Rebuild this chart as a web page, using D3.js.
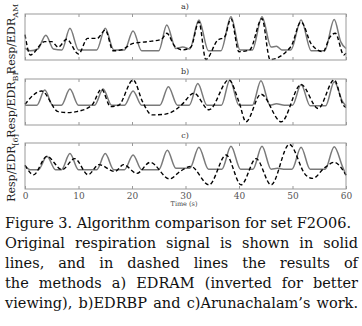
<!DOCTYPE html>
<html>
<head>
<meta charset="utf-8">
<script src="https://cdn.jsdelivr.net/npm/d3@7"></script>
<style>
  body { margin: 0; background: #fff; }
  svg { display: block; font-family: "DejaVu Serif", serif; }
</style>
</head>
<body>
<svg id="fig" width="362" height="326"></svg>
<script>
// x ticks (seconds)
const timeTicks = [0, 10, 20, 30, 40, 50, 60];

// panel a) EDR AM (inverted)
const respA_t = [0, 1, 2.4, 3.9, 5.3, 6.9, 8.4, 10, 13.4, 15, 16.6, 18.6, 20.2, 21.8, 25, 26.5, 28.2, 29.5, 30.8, 32.5, 34.3, 36.6, 38.5, 40.2, 42.5, 44.3, 46, 47, 48, 49.7, 51.6, 53.5, 56, 57.8, 59, 60];
const respA_v = [0.26, 0.2, 0.24, 0.54, 0.24, 0.22, 0.69, 0.22, 0.22, 0.69, 0.22, 0.22, 0.63, 0.2, 0.2, 0.76, 0.25, 0.28, 0.24, 0.87, 0.2, 0.2, 0.94, 0.22, 0.22, 0.94, 0.28, 0.3, 0.22, 0.22, 0.87, 0.2, 0.2, 0.88, 0.4, 0.25];
const edrA_t = [0, 1, 3.7, 5, 6.2, 7.8, 10, 11.7, 13.5, 15, 16.5, 18, 20.2, 23, 25.5, 26.5, 28, 29.5, 31, 32.5, 33.8, 36, 37.3, 38.5, 40, 42, 44.3, 45.8, 49.7, 51.6, 53.5, 55.7, 57, 58, 59.6, 60];
const edrA_v = [0.55, 0.11, 0.4, 0.4, 0.28, 0.45, 0.13, 0.47, 0.47, 0.65, 0.2, 0.22, 0.36, 0.4, 0.45, 0.58, 0.3, 0.22, 0.28, 0.83, 0.01, 0.43, 0.5, 0.9, 0.18, 0.22, 0.9, 0.01, 0.29, 0.83, 0.35, 0.18, 0.5, 0.58, 0.11, 0.15];

// panel b) EDR BP
const respB_t = [0, 2.2, 3.7, 5.2, 6.8, 8.4, 10, 13, 14.6, 16.2, 18.6, 20.2, 21.8, 25.2, 26.8, 28.5, 30.7, 32.3, 34, 36.7, 38.3, 40, 42.5, 44.1, 45.8, 47, 48.5, 50, 51.6, 53.3, 56.2, 57.8, 59.4, 60];
const respB_v = [0.43, 0.43, 0.76, 0.43, 0.43, 0.78, 0.43, 0.43, 0.78, 0.43, 0.43, 0.74, 0.43, 0.43, 0.83, 0.43, 0.43, 0.9, 0.43, 0.43, 0.98, 0.43, 0.43, 0.96, 0.43, 0.46, 0.43, 0.43, 0.88, 0.42, 0.42, 0.94, 0.5, 0.42];
const edrB_t = [0, 3.1, 6.2, 8, 9.6, 12.5, 14.3, 16, 17.5, 20.2, 22, 23.7, 25.9, 28, 29.2, 31.6, 34.4, 38.1, 40, 41.3, 44.1, 47.9, 51.6, 54.8, 57.8, 59.5, 60];
const edrB_v = [0.45, 0.74, 0.29, 0.27, 0.29, 0.43, 0.78, 0.4, 0.43, 0.98, 0.5, 0.22, 0.23, 0.32, 0.43, 0.69, 0.33, 0.98, 0.5, 0.07, 0.67, 0.07, 0.88, 0.36, 0.98, 0.43, 0.38];

// panel c) Arunachalam [6]
const respC_t = [0, 1, 2.5, 4.1, 5.7, 6.8, 8.4, 10, 13.4, 15, 16.6, 18.6, 20.2, 21.8, 25, 26.6, 28.2, 30.8, 32.5, 34.3, 36.8, 38.5, 40.3, 42.6, 44.3, 46, 47.2, 48.3, 49.9, 51.6, 53.3, 56.1, 57.8, 59.3, 60];
const respC_v = [0.5, 0.42, 0.42, 0.71, 0.42, 0.42, 0.77, 0.42, 0.42, 0.77, 0.42, 0.42, 0.74, 0.42, 0.42, 0.84, 0.45, 0.45, 0.91, 0.43, 0.43, 0.93, 0.43, 0.43, 0.93, 0.43, 0.45, 0.43, 0.43, 0.91, 0.43, 0.43, 0.92, 0.5, 0.3];
const edrC_t = [0, 1.6, 4.1, 6.9, 9.3, 11.8, 13.8, 16.8, 18.4, 20.9, 23.4, 27, 29.2, 31, 34.4, 37.6, 40.4, 43.2, 46, 49.4, 52.5, 53.8, 55.9, 57.8, 60];
const edrC_v = [0.52, 0.31, 0.71, 0.42, 0.66, 0.31, 0.53, 0.38, 0.53, 0.34, 0.58, 0.22, 0.4, 0.49, 0.09, 0.74, 0.09, 0.66, 0.09, 0.97, 0.3, 0.23, 0.45, 0.58, 0.3];

const panelTitles = ["a)", "b)", "c)"];
const labelSubs = ["AM", "BP", "[6]"];
const captionLines = [
  "Figure 3. Algorithm comparison for set F2O06.",
  "Original respiration signal is shown in solid",
  "lines, and in dashed lines the results of",
  "the methods a) EDRAM (inverted for better",
  "viewing), b)EDRBP and c)Arunachalam\u2019s work."
];

const zip = (t, v) => t.map((d, i) => [d, v[i]]);
const panels = [
  { resp: zip(respA_t, respA_v), edr: zip(edrA_t, edrA_v), top: 14 },
  { resp: zip(respB_t, respB_v), edr: zip(edrB_t, edrB_v), top: 79 },
  { resp: zip(respC_t, respC_v), edr: zip(edrC_t, edrC_v), top: 143 }
];

const svg = d3.select("#fig");
let left = 25, right = 346, ph = 46;

let x = d3.scaleLinear().domain([0, 60]).range([left, right]);

panels.forEach(function(p, i) {
  let y = d3.scaleLinear().domain([0, 1]).range([p.top + ph, p.top]);
  let g = svg.append("g");

  // title
  g.append("text")
    .attr("x", 185).attr("y", p.top - 5)
    .attr("text-anchor", "middle")
    .attr("font-size", "8px").attr("fill", "#333")
    .text(panelTitles[i]);

  // y label
  let lab = g.append("text")
    .attr("transform", "translate(15," + (p.top + ph / 2 + 2) + ") rotate(-90)")
    .attr("text-anchor", "middle")
    .attr("font-size", "11px").attr("fill", "#222");
  lab.append("tspan").text("Resp/EDR");
  lab.append("tspan").attr("dy", "2.5").attr("font-size", "8px").text(labelSubs[i]);

  let line = d3.line().x(d => x(d[0])).y(d => y(d[1])).curve(d3.curveMonotoneX);

  g.append("path").datum(p.resp)
    .attr("d", line).attr("fill", "none")
    .attr("stroke", "#7a7a7a").attr("stroke-width", 1.5);
  g.append("path").datum(p.edr)
    .attr("d", line).attr("fill", "none")
    .attr("stroke", "#000").attr("stroke-width", 1.4)
    .attr("stroke-dasharray", "4,2.5");

  // ticks top and bottom, inward
  let bottomAxis = d3.axisBottom(x).tickValues(timeTicks).tickSizeInner(-3).tickSizeOuter(0).tickFormat(i == 2 ? d3.format("d") : "");
  let topAxis = d3.axisTop(x).tickValues(timeTicks).tickSizeInner(-3).tickSizeOuter(0).tickFormat("");
  let ba = g.append("g").attr("transform", "translate(0," + (p.top + ph) + ")").call(bottomAxis);
  let ta = g.append("g").attr("transform", "translate(0," + p.top + ")").call(topAxis);
  [ba, ta].forEach(a => {
    a.select(".domain").remove();
    a.selectAll("line").attr("stroke", "#999");
  });
  ba.selectAll("text").attr("font-family", "DejaVu Serif").attr("font-size", "9px")
    .attr("fill", "#555").attr("dy", "0.71em").attr("y", 4);

  // box
  g.append("rect")
    .attr("x", left).attr("y", p.top)
    .attr("width", right - left).attr("height", ph)
    .attr("fill", "none").attr("stroke", "#9a9a9a").attr("stroke-width", 1);
});

svg.append("text")
  .attr("x", 184).attr("y", 206)
  .attr("text-anchor", "middle").attr("font-size", "6.5px").attr("fill", "#444")
  .text("Time (s)");

// justified caption
let capL = 5, capR = 358, capTop = 228, capGap = 20;
let fs = 15;
let cap = svg.append("g").attr("fill", "#111");
function measure(size) {
  let worst = 0;
  captionLines.forEach(function(s) {
    let t = cap.append("text").attr("font-size", size + "px").text(s);
    worst = Math.max(worst, t.node().getComputedTextLength());
    t.remove();
  });
  return worst;
}
while (measure(fs) > capR - capL - 2 && fs > 9) fs -= 0.25;

captionLines.forEach(function(s, li) {
  let words = s.split(" ");
  let widths = words.map(w => {
    let t = cap.append("text").attr("font-size", fs + "px").text(w);
    let wd = t.node().getComputedTextLength();
    t.remove();
    return wd;
  });
  let r = li == 0 ? 351 : capR;
  let gap = (r - capL - d3.sum(widths)) / (words.length - 1);
  let cx = capL;
  words.forEach(function(w, wi) {
    cap.append("text").attr("x", cx).attr("y", capTop + li * capGap)
      .attr("font-size", fs + "px").text(w);
    cx += widths[wi] + gap;
  });
});
</script>
</body>
</html>
